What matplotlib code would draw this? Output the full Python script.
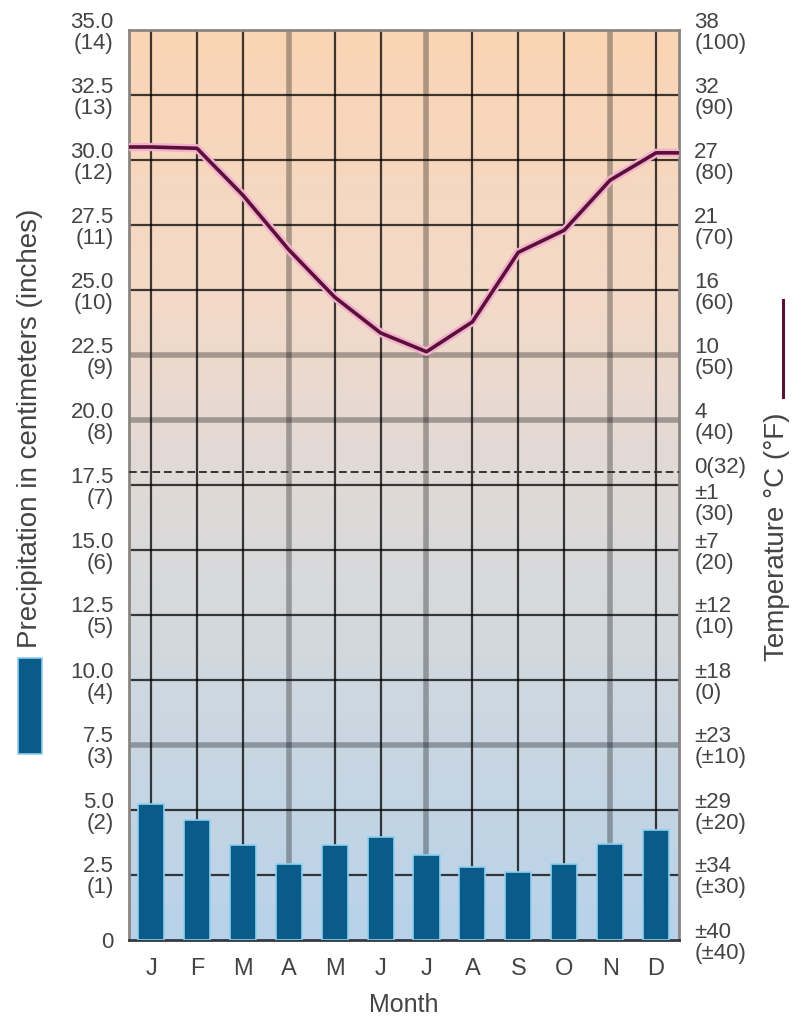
import matplotlib
matplotlib.use("Agg")
import matplotlib.pyplot as plt
import matplotlib.patheffects as pe
from matplotlib.colors import LinearSegmentedColormap
from matplotlib.transforms import ScaledTranslation
from matplotlib.patches import Rectangle
from matplotlib.lines import Line2D
import numpy as np

# --- dados ---
meses = ["J", "F", "M", "A", "M", "J", "J", "A", "S", "O", "N", "D"]
precip_cm = [5.22, 4.6, 3.65, 2.93, 3.65, 3.97, 3.26, 2.81, 2.6, 2.93, 3.69, 4.25]
temp_f = [82.0, 81.8, 74.6, 66.2, 58.9, 53.4, 50.5, 55.1, 65.8, 69.2, 76.9, 81.1]

precip_ticks = [0, 2.5, 5.0, 7.5, 10.0, 12.5, 15.0, 17.5, 20.0, 22.5, 25.0, 27.5, 30.0, 32.5, 35.0]
precip_labels = ["0", "2.5\n(1)", "5.0\n(2)", "7.5\n(3)", "10.0\n(4)", "12.5\n(5)", "15.0\n(6)",
                 "17.5\n(7)", "20.0\n(8)", "22.5\n(9)", "25.0\n(10)", "27.5\n(11)", "30.0\n(12)",
                 "32.5\n(13)", "35.0\n(14)"]
temp_ticks = [-40, -30, -20, -10, 0, 10, 20, 30, 32, 40, 50, 60, 70, 80, 90, 100]
temp_labels = ["±40\n(±40)", "±34\n(±30)", "±29\n(±20)", "±23\n(±10)", "±18\n(0)", "±12\n(10)",
               "±7\n(20)", "±1\n(30)", "0(32)", "4\n(40)", "10\n(50)", "16\n(60)", "21\n(70)",
               "27\n(80)", "32\n(90)", "38\n(100)"]

cor_barra = "#0b5b8a"
cor_linha = "#5a1038"
cor_texto = "#444444"
fonte = ["Liberation Sans Narrow", "Liberation Sans", "DejaVu Sans"]
plt.rcParams["font.family"] = fonte

fig = plt.figure(figsize=(7.96, 10.22), dpi=100)
ax = fig.add_axes([129 / 796, 1 - 940 / 1022, 550 / 796, 910 / 1022])
x = np.arange(len(meses))
xmin, xmax = -0.48, 11.5

# fundo em degradê (pêssego -> cinza -> azul)
cmap = LinearSegmentedColormap.from_list(
    "fundo", [(0.0, "#b8d2ea"), (0.2, "#c8d6e2"), (0.4, "#d8dadc"),
              (0.55, "#e4d9d4"), (0.7, "#f3dac8"), (1.0, "#fad5b5")])
grad = np.linspace(0, 1, 256).reshape(-1, 1)
ax.imshow(grad, cmap=cmap, origin="lower", aspect="auto",
          extent=[xmin, xmax, 0, 35], zorder=0)

# grade
for i in x:
    if i in (3, 6, 10):
        ax.axvline(i, color=(0, 0, 0, 0.3), lw=4, zorder=1)
    else:
        ax.axvline(i, color=(0, 0, 0, 0.75), lw=1.6, zorder=1)
for v in precip_ticks[1:-1]:
    if v in (7.5, 20.0, 22.5):
        ax.axhline(v, color=(0, 0, 0, 0.3), lw=4, zorder=1)
    else:
        ax.axhline(v, color=(0, 0, 0, 0.75), lw=1.6, zorder=1)

ax.bar(x, precip_cm, width=0.57, color=cor_barra, edgecolor="#8fd0ee", lw=1.2, zorder=3)

ax.set_xlim(xmin, xmax)
ax.set_ylim(0, 35)
ax.set_xticks(x, meses)
ax.set_yticks(precip_ticks, precip_labels)
ax.tick_params(axis="x", length=0, pad=13, labelsize=17, labelcolor=cor_texto)
ax.tick_params(axis="y", length=0, pad=11, labelsize=16, labelcolor=cor_texto)
for lb in ax.get_yticklabels():
    lb.set_linespacing(1.0)
ax.set_xlabel("Month", fontsize=18, color=cor_texto, labelpad=9)
for s in ax.spines.values():
    s.set_color("#8a8580")
    s.set_linewidth(2)
ax.spines["bottom"].set_color("#333a40")

# eixo da temperatura (°F)
ax2 = ax.twinx()
ax2.set_ylim(-40, 100)
ax2.axhline(32, color="#333333", lw=1.4, ls=(0, (4, 2)), zorder=2)
xs = np.r_[xmin, x, xmax]
ys = np.r_[temp_f[0], temp_f, temp_f[-1]]
ax2.plot(xs, ys, color=cor_linha, lw=2.6, solid_joinstyle="round", zorder=4,
         path_effects=[pe.Stroke(linewidth=6, foreground="#f2b0cc"), pe.Normal()])
ax2.set_yticks(temp_ticks, temp_labels)
ax2.tick_params(axis="y", length=0, pad=11, labelsize=16, labelcolor=cor_texto)
for t, lb in zip(temp_ticks, ax2.get_yticklabels()):
    lb.set_linespacing(1.0)
    if t == 30:
        lb.set_transform(lb.get_transform() + ScaledTranslation(0, -12 / 72, fig.dpi_scale_trans))
    if t == 32:
        lb.set_transform(lb.get_transform() + ScaledTranslation(0, 5 / 72, fig.dpi_scale_trans))
for s in ax2.spines.values():
    s.set_visible(False)

# rótulos laterais e "legendas"
fig.text(30 / 796, 1 - 428 / 1022, "Precipitation in centimeters (inches)", rotation=90,
         ha="center", va="center", fontsize=20, color=cor_texto, family=["Liberation Sans", "DejaVu Sans"])
fig.patches.append(Rectangle((18 / 796, 1 - 754 / 1022), 24 / 796, 96 / 1022,
                             transform=fig.transFigure, facecolor=cor_barra,
                             edgecolor="#8fd0ee", lw=1.2))
fig.text(777 / 796, 1 - 537 / 1022, "Temperature °C (°F)", rotation=90,
         ha="center", va="center", fontsize=20, color=cor_texto, family=["Liberation Sans", "DejaVu Sans"])
fig.lines.append(Line2D([783 / 796, 783 / 796], [1 - 397 / 1022, 1 - 300 / 1022],
                        transform=fig.transFigure, color=cor_linha, lw=2.2))

fig.savefig("out.png", dpi=100)
